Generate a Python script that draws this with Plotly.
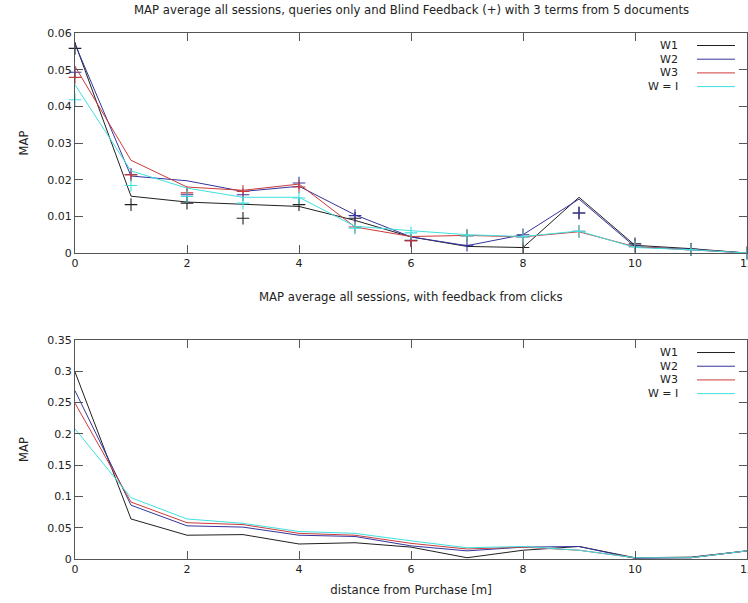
import plotly.graph_objects as go

x = list(range(13))
xticks = [0, 2, 4, 6, 8, 10, 12]
yticks_top = [0, 0.01, 0.02, 0.03, 0.04, 0.05, 0.06]
yticklabels_top = ["0", "0.01", "0.02", "0.03", "0.04", "0.05", "0.06"]
yticks_bot = [0, 0.05, 0.1, 0.15, 0.2, 0.25, 0.3, 0.35]
yticklabels_bot = ["0", "0.05", "0.1", "0.15", "0.2", "0.25", "0.3", "0.35"]

# Top panel: lines (queries only) and + markers (blind feedback)
top_w1 = [0.0573, 0.0155, 0.0139, 0.0133, 0.0127, 0.0089, 0.0044, 0.0018, 0.0015, 0.0152, 0.0021, 0.0012, 0.0]
top_w2 = [0.0570, 0.0210, 0.0197, 0.0168, 0.0182, 0.0104, 0.0044, 0.0020, 0.0050, 0.0147, 0.0017, 0.0010, 0.0]
top_w3 = [0.0509, 0.0253, 0.0180, 0.0171, 0.0188, 0.0071, 0.0045, 0.0048, 0.0044, 0.0058, 0.0017, 0.0009, 0.0]
top_wi = [0.0459, 0.0224, 0.0177, 0.0152, 0.0152, 0.0073, 0.0061, 0.0050, 0.0045, 0.0060, 0.0015, 0.0009, 0.0]

fb_w1 = [0.0558, 0.0132, 0.0136, 0.0095, 0.0132, 0.0095, 0.0034, 0.0047, 0.0015, 0.0109, 0.0025, 0.0010, 0.0]
fb_w2 = [0.0493, 0.0214, 0.0159, 0.0159, 0.0191, 0.0102, 0.0035, 0.0021, 0.0050, 0.0109, 0.0020, 0.0010, 0.0]
fb_w3 = [0.0479, 0.0213, 0.0164, 0.0168, 0.0180, 0.0071, 0.0033, 0.0047, 0.0044, 0.0059, 0.0017, 0.0009, 0.0]
fb_wi = [0.0418, 0.0184, 0.0154, 0.0136, 0.0150, 0.0068, 0.0055, 0.0047, 0.0044, 0.0059, 0.0017, 0.0009, 0.0]

# Bottom panel: feedback from clicks
bot_w1 = [0.299, 0.064, 0.038, 0.039, 0.024, 0.026, 0.019, 0.002, 0.014, 0.020, 0.002, 0.003, 0.013]
bot_w2 = [0.269, 0.086, 0.053, 0.051, 0.038, 0.036, 0.021, 0.013, 0.019, 0.020, 0.001, 0.002, 0.013]
bot_w3 = [0.249, 0.091, 0.058, 0.055, 0.041, 0.038, 0.025, 0.016, 0.019, 0.014, 0.002, 0.002, 0.013]
bot_wi = [0.208, 0.098, 0.064, 0.057, 0.044, 0.041, 0.029, 0.018, 0.020, 0.014, 0.002, 0.002, 0.013]

names = ["W1", "W2", "W3", "W = I"]
colors = ["#202020", "#3434a0", "#cc3a3a", "#3ee0e0"]

FONT = "DejaVu Sans"

fig = go.Figure()

for ys, fb, c, n in zip([top_w1, top_w2, top_w3, top_wi], [fb_w1, fb_w2, fb_w3, fb_wi], colors, names):
    fig.add_trace(go.Scatter(x=x, y=ys, mode="lines", line=dict(color=c, width=1),
                             name=n, showlegend=False, xaxis="x", yaxis="y", cliponaxis=False))
    fig.add_trace(go.Scatter(x=x, y=fb, mode="markers",
                             marker=dict(symbol="cross-thin", size=9, line=dict(color=c, width=1.1)),
                             showlegend=False, xaxis="x", yaxis="y", cliponaxis=False))

for ys, c, n in zip([bot_w1, bot_w2, bot_w3, bot_wi], colors, names):
    fig.add_trace(go.Scatter(x=x, y=ys, mode="lines", line=dict(color=c, width=1),
                             name=n, showlegend=False, xaxis="x2", yaxis="y2", cliponaxis=False))

axis_common = dict(showline=True, linecolor="#555555", linewidth=1, mirror="allticks",
                   ticks="inside", ticklen=8, tickcolor="#555555", showgrid=False,
                   zeroline=False, automargin=False, ticklabeloverflow="allow",
                   tickfont=dict(family=FONT, size=11, color="#222222"))

fig.update_layout(
    width=748, height=603,
    margin=dict(l=75, r=1, t=33, b=44),
    paper_bgcolor="white", plot_bgcolor="white",
    showlegend=False,
    font=dict(family=FONT, size=11, color="#222222"),
    xaxis=dict(domain=[0, 1], anchor="y", range=[0, 12], tickvals=xticks, **axis_common),
    yaxis=dict(domain=[0.5817, 1], anchor="x", range=[0, 0.06], tickvals=yticks_top,
               ticktext=yticklabels_top,
               title=dict(text="MAP", standoff=16, font=dict(size=11.5)), **axis_common),
    xaxis2=dict(domain=[0, 1], anchor="y2", range=[0, 12], tickvals=xticks,
                title=dict(text="distance from Purchase [m]", standoff=10, font=dict(size=11.7)),
                **axis_common),
    yaxis2=dict(domain=[0, 0.4163], anchor="x2", range=[0, 0.35], tickvals=yticks_bot,
                ticktext=yticklabels_bot,
                title=dict(text="MAP", standoff=16, font=dict(size=11.5)), **axis_common),
)

# Titles
fig.add_annotation(text="MAP average all sessions, queries only and Blind Feedback (+) with 3 terms from 5 documents",
                   xref="paper", yref="paper", x=0.5, y=1.0, yshift=23, showarrow=False,
                   xanchor="center", yanchor="middle", font=dict(family=FONT, size=11.7, color="#222222"))
fig.add_annotation(text="MAP average all sessions, with feedback from clicks",
                   xref="paper", yref="paper", x=0.5, y=0.4163, yshift=43, showarrow=False,
                   xanchor="center", yanchor="middle", font=dict(family=FONT, size=11.7, color="#222222"))

# Legends (text right, line sample to the right), in axis-domain coordinates
for ax_y, ax_x, h in (("y", "x", 220.0), ("y2", "x2", 219.0)):
    for i, (n, c) in enumerate(zip(names, colors)):
        yy = 1 - (12.5 + 13.7 * i) / h
        fig.add_annotation(text=n, xref=ax_x + " domain", yref=ax_y + " domain", x=0.900, y=yy,
                           showarrow=False, xanchor="right", yanchor="middle",
                           font=dict(family=FONT, size=11, color="#222222"))
        fig.add_shape(type="line", xref=ax_x + " domain", yref=ax_y + " domain",
                      x0=0.9256, x1=0.9821, y0=yy, y1=yy, line=dict(color=c, width=1))

fig.write_html("out.html", config={"displayModeBar": False},
               post_script="document.body.style.margin='0px';")
